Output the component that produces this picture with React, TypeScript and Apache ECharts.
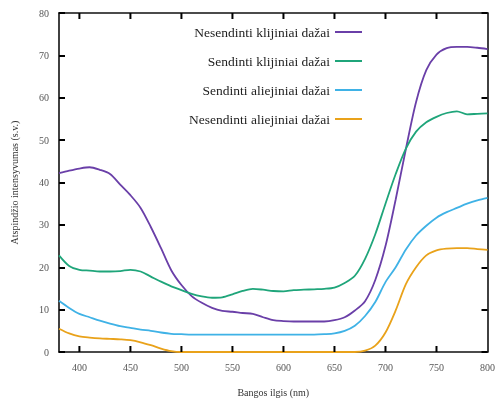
import React, { useEffect, useRef } from "react";
import * as echarts from "echarts";

const wavelengths = [380,390,400,410,420,430,440,450,460,470,480,490,500,510,520,530,540,550,560,570,580,590,600,610,620,630,640,650,660,670,680,690,700,710,720,730,740,750,760,770,780,790,800];

const seriesNames = [
  "Nesendinti klijiniai dažai",
  "Sendinti klijiniai dažai",
  "Sendinti aliejiniai dažai",
  "Nesendinti aliejiniai dažai",
];

const purple = [42.2,42.8,43.3,43.6,43.0,42.0,39.5,37.0,34.0,29.5,24.5,19.3,15.8,13.2,11.6,10.4,9.7,9.5,9.2,9.0,8.2,7.5,7.3,7.2,7.2,7.2,7.2,7.5,8.2,9.8,12.0,17.0,25.0,36.0,47.9,59.0,66.5,70.2,71.7,72.0,72.0,71.8,71.5];
const green = [22.8,20.3,19.4,19.2,19.0,19.0,19.1,19.4,19.0,17.8,16.6,15.5,14.6,13.7,13.1,12.8,12.9,13.6,14.4,14.9,14.7,14.4,14.3,14.6,14.7,14.8,14.9,15.2,16.3,18.0,22.0,27.8,35.0,42.0,48.0,52.0,54.2,55.5,56.4,56.8,56.1,56.2,56.3];
const blue = [12.1,10.4,9.0,8.2,7.4,6.7,6.1,5.7,5.3,5.0,4.6,4.3,4.2,4.1,4.1,4.1,4.1,4.1,4.1,4.1,4.1,4.1,4.1,4.1,4.1,4.1,4.2,4.4,5.0,6.2,8.5,11.8,16.5,20.0,24.2,27.5,29.8,31.7,33.0,34.0,35.0,35.8,36.4];
const orange = [5.5,4.4,3.7,3.4,3.2,3.1,3.0,2.8,2.3,1.6,0.8,0.2,0,0,0,0,0,0,0,0,0,0,0,0,0,0,0,0,0,0,0.3,1.5,4.6,9.8,16.0,20.0,22.8,24.0,24.4,24.5,24.5,24.3,24.1];

const xLabelValues = [400,450,500,550,600,650,700,750,800];
const xTickValues = [400,450,500,550,600,650,700,750];
const colors = ["#6a3fa8", "#1fa57a", "#3fb2e6", "#e9a21a"];

const FONT = "Liberation Serif";
const X_MIN = 380, X_MAX = 800, Y_MIN = 0, Y_MAX = 80;

const axLine = () => ({ show: true, onZero: false, lineStyle: { color: "#111", width: 1.6 } });

export default function App() {
  const ref = useRef<HTMLDivElement>(null);
  useEffect(() => {
    if (!ref.current) return;
    const chart = echarts.init(ref.current, undefined, { renderer: "svg" });
    const allData = [purple, green, blue, orange];
    const tickData = xTickValues.map((v) => [v, Y_MIN]);
    const TL = 6;
    chart.setOption({
      animation: false,
      grid: { left: 59, right: 8, top: 13, bottom: 48 },
      legend: {
        orient: "vertical",
        right: 131,
        top: 20,
        align: "right",
        itemWidth: 27,
        itemHeight: 10,
        itemGap: 15,
        icon: "path://M0,4 L27,4 L27,6 L0,6 Z",
        textStyle: { fontFamily: FONT, fontSize: 13.5, color: "#222" },
        data: seriesNames,
      },
      xAxis: [
        {
          type: "value",
          min: X_MIN,
          max: X_MAX,
          name: "Bangos ilgis (nm)",
          nameLocation: "middle",
          nameGap: 35,
          nameTextStyle: { fontFamily: FONT, fontSize: 10, color: "#333" },
          axisLine: axLine(),
          axisTick: { show: false },
          axisLabel: { customValues: xLabelValues, fontFamily: FONT, fontSize: 10, color: "#555", margin: 10 },
          splitLine: { show: false },
        },
        {
          type: "value",
          position: "top",
          min: X_MIN,
          max: X_MAX,
          axisLine: axLine(),
          axisTick: { show: false },
          axisLabel: { show: false },
          splitLine: { show: false },
        },
      ],
      yAxis: [
        {
          type: "value",
          min: Y_MIN,
          max: Y_MAX,
          interval: 10,
          name: "Atspindžio intensyvumas (s.v.)",
          nameLocation: "middle",
          nameGap: 40,
          nameTextStyle: { fontFamily: FONT, fontSize: 10, color: "#333" },
          axisLine: axLine(),
          axisTick: { show: true, inside: true, length: TL, lineStyle: { color: "#000", width: 2 } },
          axisLabel: { fontFamily: FONT, fontSize: 10, color: "#555", margin: 10 },
          splitLine: { show: false },
        },
        {
          type: "value",
          position: "right",
          min: Y_MIN,
          max: Y_MAX,
          interval: 10,
          axisLine: axLine(),
          axisTick: { show: true, inside: true, length: TL, lineStyle: { color: "#000", width: 2 } },
          axisLabel: { show: false },
          splitLine: { show: false },
        },
      ],
      series: [
        ...seriesNames.map((name, i) => ({
          name,
          type: "line",
          xAxisIndex: 0,
          yAxisIndex: 0,
          data: wavelengths.map((w, j) => [w, allData[i][j]]),
          showSymbol: false,
          symbol: "none",
          smooth: 0.3,
          color: colors[i],
          lineStyle: { color: colors[i], width: 1.8 },
        })),
        {
          name: "xticks",
          type: "custom",
          xAxisIndex: 0,
          yAxisIndex: 0,
          silent: true,
          clip: false,
          z: 10,
          data: tickData,
          renderItem: (params: any, api: any) => {
            const v0 = api.value(0);
            const b = api.coord([v0, Y_MIN]);
            const t = api.coord([v0, Y_MAX]);
            return {
              type: "group",
              children: [
                { type: "rect", shape: { x: b[0] - 1, y: b[1] - TL, width: 2, height: TL }, style: { fill: "#000" } },
                { type: "rect", shape: { x: t[0] - 1, y: t[1], width: 2, height: TL }, style: { fill: "#000" } },
              ],
            };
          },
        },
      ],
    });
    return () => chart.dispose();
  }, []);
  return (
    <div
      ref={ref}
      style={{ position: "fixed", left: 0, top: 0, width: 498, height: 402 }}
    />
  );
}
